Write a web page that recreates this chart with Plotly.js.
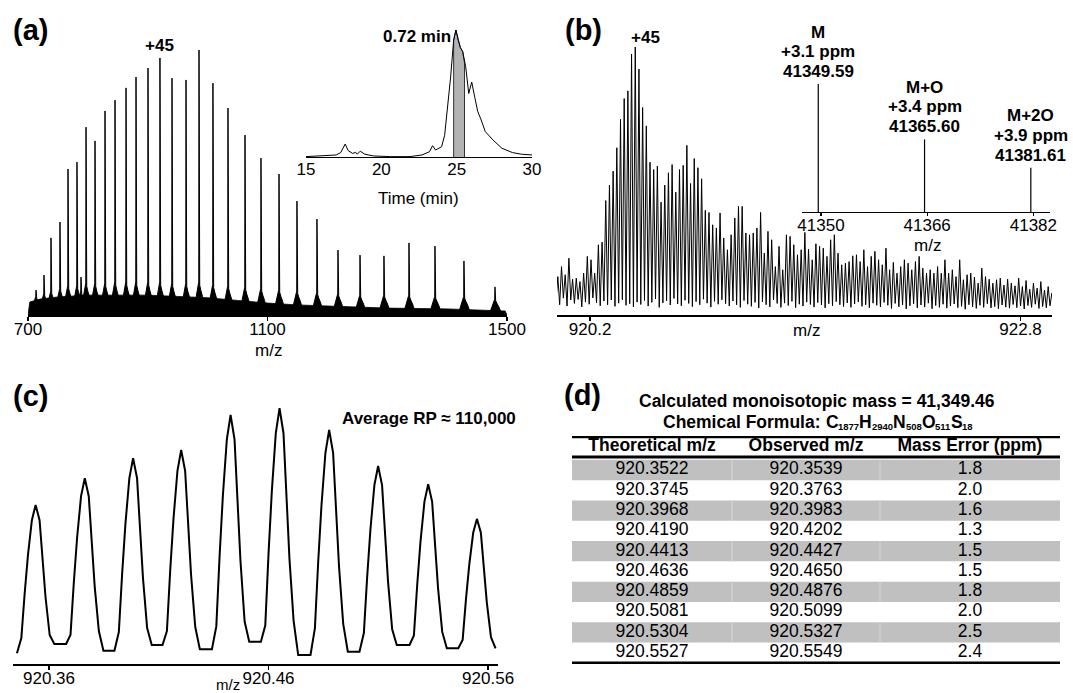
<!DOCTYPE html>
<html><head><meta charset="utf-8">
<script src="https://cdn.plot.ly/plotly-3.0.1.min.js"></script>
<style>html,body{margin:0;padding:0;background:#fff;} #chart{width:1073px;height:693px;}</style>
</head><body><div id="chart"></div>
<script>
// ===== Panel (a): charge-state envelope (m/z, relative intensity %) =====
const aPeakMz  = [713.4, 726.7, 738.4, 753.4, 766.8, 781.8, 788.5, 796.9, 811.9, 828.6, 845.3, 863.7, 880.4, 900.4, 920.4, 940.5, 963.9, 985.6, 1008.9, 1034.0, 1062.4, 1089.1, 1119.2, 1149.2, 1182.6, 1217.7, 1254.5, 1294.5, 1336.3, 1379.7, 1428.1, 1479.9];
const aPeakInt = [9.4, 15.1, 29.1, 35.1, 55.1, 57.7, 14.3, 70.9, 65.7, 77.0, 81.1, 85.7, 89.8, 93.2, 97.0, 89.4, 88.7, 100, 87.5, 78.1, 67.9, 59.2, 53.2, 43.0, 36.2, 24.5, 22.6, 22.3, 27.2, 26.0, 20.4, 10.6];
const aSkirt   = [7, 8, 9, 10, 11, 11, 9, 12, 12, 12, 12.5, 12.5, 12.5, 12.5, 12.5, 12, 12, 12.5, 11.5, 11, 10.5, 10, 9.5, 9, 8.5, 8, 7.5, 7.5, 7.5, 7, 7, 6];
const aBaseMz  = [700, 703, 720, 750, 800, 850, 900, 950, 1000, 1050, 1100, 1150, 1200, 1300, 1400, 1497, 1500];
const aBaseInt = [0, 4.9, 6.0, 6.8, 7.5, 7.5, 7.5, 7.0, 6.5, 5.5, 4.5, 3.8, 3.4, 2.6, 2.3, 1.5, 0];
const aTicks   = [700, 1100, 1500];
const aLabelIdx = 14; // +45 charge state

// Inset (a): chromatogram
const chromT = [15, 17.0, 17.3, 17.6, 17.8, 18.1, 18.3, 18.4, 18.6, 18.9, 19.5, 20.6, 21.9, 22.7, 23.2, 23.4, 23.6, 24.0, 24.2, 24.4, 24.6, 24.8, 24.95, 25.1, 25.25, 25.4, 25.5, 25.6, 25.8, 26.0, 26.2, 26.4, 26.6, 26.9, 27.4, 28.0, 28.7, 29.3, 30];
const chromI = [0.3, 1.6, 3.4, 10.2, 5.0, 2.8, 3.7, 2.2, 4.6, 2.2, 0.8, 0.3, 0.3, 1.6, 4.2, 8.9, 5.5, 8.1, 17, 39.6, 63, 92, 100, 92, 86, 83, 75, 71, 50, 59, 47, 35.7, 30, 20, 13.5, 6.9, 3.5, 2.2, 1.6];
const shadeT = [24.8, 24.95, 25.1, 25.25, 25.4, 25.5, 25.52];
const shadeI = [92, 100, 92, 86, 83, 75, 74];
const chromTicks = [15, 20, 25, 30];

// ===== Panel (b): isotopic distribution of the +45 ion =====
const bFirstMz = 920.005;
const bSpacing = 0.02227;
const bPeaks = [
  12.7, 16.5, 13.4, 19.7, 11.7, 12.1, 10.8, 14.0, 20.4, 19.1, 14.0, 24.8, 25.8, 41.6, 47.5, 52.8, 61.7, 72.5, 80.4, 83.3, 97.3, 100, 91.6, 77.0, 70.0, 56.2, 53.4, 54.7, 41.0, 47.5, 52.2, 55.3, 44.8, 53.4, 55.0, 62.6, 48.1, 57.6, 54.1, 49.9, 37.9, 37.1, 32.4, 31.2, 36.9, 27.4,
  22.9, 28.6, 35.0, 39.4, 39.4, 29.3, 28.6, 29.3, 31.2, 37.1, 21.6, 29.9, 26.7, 16.5, 24.2, 15.3, 28.6, 28.0, 24.8, 21.0, 22.9, 29.5, 23.2, 19.1, 25.2, 24.2, 23.5, 20.4, 26.7, 28.6, 21.6, 17.2, 17.8, 18.4, 20.6, 21.0, 18.4, 22.9, 16.5, 20.4, 22.3, 19.1, 17.2, 23.5,
  15.3, 18.1, 14.0, 16.5, 19.1, 17.8, 15.3, 18.4, 20.4, 15.9, 14.0, 15.3, 14.0, 16.5, 14.0, 19.1, 14.0, 15.3, 12.7, 19.1, 11.5, 13.4, 14.0, 12.5, 10.2, 15.9, 12.7, 11.7, 10.2, 11.5, 12.1, 9.5, 11.7, 10.2, 9.2, 12.1, 8.9, 11.2, 7.9, 10.2, 8.3, 10.8, 7.6, 8.9, 6.4];
const bValleys = [
  3.5, 2.0, 4.5, 1.5, 3.8, 2.5, 4.0, 1.2, 3.0, 2.2, 4.6, 2.8, 1.6, 3.4, 2.0, 3.8, 1.4, 2.6, 3.9, 1.8,
  2.4, 1.2, 3.0, 2.1, 3.6, 1.5, 2.9, 4.2, 1.0, 2.7, 3.5, 1.9, 4.4, 2.3, 1.6, 3.7, 2.5, 1.3, 3.2, 2.0,
  4.1, 2.6, 1.1, 3.3, 2.2, 3.9,
  2.4, 1.5, 3.4, 2.0, 1.0, 3.6, 2.2, 1.4, 2.9, 0.8, 3.1, 2.0, 1.2, 3.8, 2.5, 1.0, 2.6, 1.7, 3.3, 0.9,
  2.2, 1.5, 3.0, 2.1, 1.1, 2.8, 1.9, 0.8, 2.4, 1.6, 3.2, 2.0, 1.3, 2.7, 1.0, 2.3, 3.1, 1.4, 2.0, 0.9,
  2.6, 1.8, 1.2, 2.9,
  1.8, 0.6, 2.5, 1.2, 2.0, 0.4, 1.6, 2.4, 0.8, 1.9, 1.1, 2.6, 0.5, 1.7, 1.0, 2.2, 0.7, 1.5, 2.3, 0.9,
  1.4, 0.3, 2.0, 1.2, 0.6, 1.8, 1.0, 2.4, 0.8, 1.3, 0.5, 1.9, 1.1, 0.7, 2.1, 0.9, 1.5, 0.4, 1.7, 1.0,
  2.2, 0.6, 1.3, 0.8, 1.6, 1.0];
const bTicks = [920.2, 922.8];
const bTickText = ['920.2', '922.8'];

// Inset (b): deconvoluted masses
const bIsoMass = [41349.59, 41365.60, 41381.61];
const bIsoInt  = [100, 56.7, 34.6];
const bIsoName = ['M', 'M+O', 'M+2O'];
const bIsoPpm  = ['+3.1 ppm', '+3.4 ppm', '+3.9 ppm'];
const bIsoTicks = [41350, 41366, 41382];
const bIsoTickText = ['41350', '41366', '41382'];

// ===== Panel (d): table =====
const tTheo = [920.3522, 920.3745, 920.3968, 920.4190, 920.4413, 920.4636, 920.4859, 920.5081, 920.5304, 920.5527];
const tObs  = [920.3539, 920.3763, 920.3983, 920.4202, 920.4427, 920.4650, 920.4876, 920.5099, 920.5327, 920.5549];
const tErr  = [1.8, 2.0, 1.6, 1.3, 1.5, 1.5, 1.8, 2.0, 2.5, 2.4];
const tHeaders = ['Theoretical m/z', 'Observed m/z', 'Mass Error (ppm)'];
const formulaParts = [['C', '1877'], ['H', '2940'], ['N', '508'], ['O', '511'], ['S', '18']];

// ===== Panel (c): resolved isotopic peaks (centres = observed m/z) =====
const cPeakMz  = tObs;
const cPeakInt = [61.3, 72.0, 80.0, 83.3, 97.3, 100, 91.3, 76.9, 69.6, 55.7];
const cValley  = [1.9, 5.6, 2.9, 5.2, 3.5, 6.5, 1.2, 2.5, 5.2, 3.9, 3.9];
const cShapeDx  = [-0.0065, -0.005, -0.0035, -0.0017, 0, 0.0018, 0.003, 0.0045, 0.0064];
const cShapeRel = [0.13, 0.42, 0.67, 0.90, 1, 0.90, 0.70, 0.40, 0.15];
const cFootDx = 0.0085;
const cTicks = [920.36, 920.46, 920.56];
const cTickText = ['920.36', '920.46', '920.56'];

// ---------------------------------------------------------------
const FONT = 'Liberation Sans, Arial, Helvetica, sans-serif';
const W = 1073, H = 693;
const dX = (a, b) => [a / W, b / W];
const dY = (top, bot) => [1 - bot / H, 1 - top / H];
const PX = v => v / W, PY = v => 1 - v / H;

// (a) peaks as spike + skirt polygons
const SK_DX = [-10, -5, -2.5, -1, -0.4, 0, 0.4, 1.2, 3, 6, 12];
const SK_F  = [0, 0.55, 0.75, 0.9, 1, null, 1, 0.9, 0.75, 0.55, 0];
const apx = [], apy = [];
aPeakMz.forEach((c, i) => {
  const h = aPeakInt[i], s = aSkirt[i];
  SK_DX.forEach((d, k) => { apx.push(c + d); apy.push(SK_F[k] === null ? h : SK_F[k] * s); });
  apx.push(null); apy.push(null);
});

// inset shade polygon
const shX = [shadeT[0]].concat(shadeT, [shadeT[shadeT.length - 1]]);
const shY = [0].concat(shadeI, [0]);

// (b) zig-zag profile
const bY = [];
bPeaks.forEach((p, i) => { bY.push(bValleys[i], p); });
bY.push(bValleys[bPeaks.length]);

// (b) inset sticks
const stX = [], stY = [];
bIsoMass.forEach((m, i) => { stX.push(m, m, null); stY.push(0, bIsoInt[i], null); });

// (c) profile
const cx = [], cy = [];
cPeakMz.forEach((c, i) => {
  cx.push(c - cFootDx); cy.push(cValley[i]);
  cShapeDx.forEach((d, k) => { cx.push(c + d); cy.push(cPeakInt[i] * cShapeRel[k]); });
  cx.push(c + cFootDx); cy.push(cValley[i + 1]);
});

// (d) table geometry in its own hidden axes (x in px-like units, y in row units)
const colEdges = [0, 160, 308, 488];
const colCenter = [80, 234, 398];
const rowIdx = tTheo.map((_, i) => i);
const grayRows = rowIdx.filter(i => i % 2 === 0);
const TF = 17.5;

const traces = [
  {type: 'scatter', mode: 'lines', x: aBaseMz, y: aBaseInt, fill: 'tozeroy', fillcolor: '#000',
   line: {color: '#000', width: 0.8}, xaxis: 'x', yaxis: 'y', hoverinfo: 'skip'},
  {type: 'scatter', mode: 'lines', x: apx, y: apy, fill: 'toself', fillcolor: '#000',
   line: {color: '#000', width: 1}, xaxis: 'x', yaxis: 'y', hoverinfo: 'skip'},
  {type: 'scatter', mode: 'lines', x: shX, y: shY, fill: 'toself', fillcolor: '#b3b3b3',
   line: {color: '#333', width: 1}, xaxis: 'x2', yaxis: 'y2', hoverinfo: 'skip'},
  {type: 'scatter', mode: 'lines', x: chromT, y: chromI, line: {color: '#000', width: 1},
   xaxis: 'x2', yaxis: 'y2', hoverinfo: 'skip'},
  {type: 'scatter', mode: 'lines', x0: bFirstMz - bSpacing / 2, dx: bSpacing / 2, y: bY,
   line: {color: '#000', width: 1}, xaxis: 'x3', yaxis: 'y3', hoverinfo: 'skip'},
  {type: 'scatter', mode: 'lines', x: stX, y: stY, line: {color: '#000', width: 1.2},
   xaxis: 'x4', yaxis: 'y4', hoverinfo: 'skip'},
  {type: 'scatter', mode: 'lines', x: cx, y: cy, line: {color: '#000', width: 2},
   xaxis: 'x5', yaxis: 'y5', hoverinfo: 'skip'},
  {type: 'bar', orientation: 'h', y: grayRows, x: grayRows.map(() => colEdges[3]), base: 0, width: 1,
   marker: {color: '#c0c0c0', line: {width: 0}}, xaxis: 'x6', yaxis: 'y6', hoverinfo: 'skip'},
  {type: 'scatter', mode: 'text', x: colCenter, y: colCenter.map(() => -1.15),
   text: tHeaders.map(t => '<b>' + t + '</b>'), textfont: {family: FONT, size: TF, color: '#000'},
   textposition: 'middle center', xaxis: 'x6', yaxis: 'y6', hoverinfo: 'skip'}
];
const cols = [tTheo.map(v => v.toFixed(4)), tObs.map(v => v.toFixed(4)), tErr.map(v => v.toFixed(1))];
cols.forEach((vals, j) => {
  traces.push({type: 'scatter', mode: 'text', x: vals.map(() => colCenter[j]), y: rowIdx, text: vals,
    textfont: {family: FONT, size: TF, color: '#000'}, textposition: 'middle center',
    xaxis: 'x6', yaxis: 'y6', hoverinfo: 'skip'});
});

const axBase = {showgrid: false, zeroline: false, showline: true, linecolor: '#000', ticks: 'outside',
  tickcolor: '#000', tickwidth: 1.3, ticklen: 4, ticklabelstandoff: -6,
  tickfont: {family: FONT, size: 17, color: '#000'}, fixedrange: true};
const yHidden = {visible: false, fixedrange: true, showgrid: false, zeroline: false};

const shapes = [];
grayRows.forEach(r => {
  [colEdges[1], colEdges[2]].forEach(e => shapes.push({type: 'line', xref: 'x6', yref: 'y6',
    x0: e, x1: e, y0: r - 0.5, y1: r + 0.5, line: {color: '#d6d6d6', width: 1}}));
});
[[-1.62, 2.5], [-0.64, 3], [9.5, 2.5]].forEach(([y, w]) => shapes.push({type: 'line', xref: 'x6', yref: 'y6',
  x0: colEdges[0], x1: colEdges[3], y0: y, y1: y, line: {color: '#000', width: w}}));

const ann = [];
function lab(text, x, y, opt) {
  ann.push(Object.assign({text: text, x: PX(x), y: PY(y), xref: 'paper', yref: 'paper', showarrow: false,
    xanchor: 'center', yanchor: 'middle', borderpad: 0, font: {family: FONT, size: 17, color: '#000'}}, opt || {}));
}
const big = {font: {family: FONT, size: 29, color: '#000'}};
lab('<b>(a)</b>', 30, 30, big);
lab('<b>(b)</b>', 583, 30, big);
lab('<b>(c)</b>', 30, 396, big);
lab('<b>(d)</b>', 582, 395, big);
lab('m/z', 268, 350);
lab('Time (min)', 418, 198);
lab('m/z', 806, 330);
lab('m/z', 927, 245);
lab('m/z', 228, 684, {font: {family: FONT, size: 15, color: '#000'}});
lab('<b>Average RP ≈ 110,000</b>', 517, 418, {xanchor: 'right'});
lab('<b>Calculated monoisotopic mass = 41,349.46</b>', 817, 401, {font: {family: FONT, size: TF, color: '#000'}});

// formula line with small subscripts, laid out with measured widths
const ctx = document.createElement('canvas').getContext('2d');
const tw = (t, sz) => { ctx.font = 'bold ' + sz + 'px "Liberation Sans"'; return ctx.measureText(t).width; };
const MAIN = TF, SUB = 9.5;
const pieces = [['Chemical Formula: ', MAIN]];
formulaParts.forEach(([el, n]) => { pieces.push([el, MAIN]); pieces.push([n, SUB]); });
const total = pieces.reduce((s, p) => s + tw(p[0], p[1]), 0);
let xx = 817 - total / 2;
pieces.forEach(([t, sz]) => {
  lab('<b>' + t.replace(/ /g, '&nbsp;') + '</b>', xx, sz === MAIN ? 422 : 426.5,
    {xanchor: 'left', font: {family: FONT, size: sz, color: '#000'}});
  xx += tw(t, sz);
});

const fnt = {family: FONT, size: 17, color: '#000'};
ann.push({text: '<b>+45</b>', xref: 'x', yref: 'y', x: aPeakMz[aLabelIdx], y: aPeakInt[aLabelIdx], yshift: 12,
  showarrow: false, xanchor: 'center', yanchor: 'middle', font: fnt});
const bMaxIdx = bPeaks.indexOf(Math.max.apply(null, bPeaks));
ann.push({text: '<b>+45</b>', xref: 'x3', yref: 'y3', x: bFirstMz + bMaxIdx * bSpacing, y: bPeaks[bMaxIdx],
  yshift: 9, xshift: 10, showarrow: false, xanchor: 'center', yanchor: 'middle', font: fnt});
ann.push({text: '<b>0.72 min</b>', xref: 'x2', yref: 'y2', x: shadeT[0], y: 100, yshift: -7, xshift: -1,
  showarrow: false, xanchor: 'right', yanchor: 'middle', font: fnt});
bIsoMass.forEach((m, i) => {
  [[bIsoName[i], 52], [bIsoPpm[i], 32.5], [m.toFixed(2), 12.5]].forEach(([t, s]) => {
    ann.push({text: '<b>' + t + '</b>', xref: 'x4', yref: 'y4', x: m, y: bIsoInt[i], yshift: s,
      showarrow: false, xanchor: 'center', yanchor: 'middle', font: fnt});
  });
});

const layout = {
  width: W, height: H, margin: {l: 0, r: 0, t: 0, b: 0}, showlegend: false,
  paper_bgcolor: '#fff', plot_bgcolor: 'rgba(0,0,0,0)', font: {family: FONT, color: '#000'},
  xaxis: Object.assign({}, axBase, {domain: dX(28, 507), range: [700, 1500], tickvals: aTicks, linewidth: 2, anchor: 'y'}),
  yaxis: Object.assign({}, yHidden, {domain: dY(50, 315), range: [0, 100], anchor: 'x'}),
  xaxis2: Object.assign({}, axBase, {domain: dX(306, 532), range: [15, 30], tickvals: chromTicks, linewidth: 1, ticks: '', ticklabelstandoff: -3, anchor: 'y2'}),
  yaxis2: Object.assign({}, yHidden, {domain: dY(30, 157), range: [0, 100], anchor: 'x2'}),
  xaxis3: Object.assign({}, axBase, {domain: dX(557, 1052), range: [920.0, 922.99], tickvals: bTicks, ticktext: bTickText, linewidth: 2, anchor: 'y3'}),
  yaxis3: Object.assign({}, yHidden, {domain: dY(47, 315), range: [-1.9, 100], anchor: 'x3'}),
  xaxis4: Object.assign({}, axBase, {domain: dX(802, 1050), range: [41347.14, 41384.5], tickvals: bIsoTicks, ticktext: bIsoTickText, linewidth: 1, ticklen: 3, ticklabelstandoff: -5, anchor: 'y4'}),
  yaxis4: Object.assign({}, yHidden, {domain: dY(84, 212), range: [0, 100], anchor: 'x4'}),
  xaxis5: Object.assign({}, axBase, {domain: dX(13, 498), range: [920.3436, 920.5645], tickvals: cTicks, ticktext: cTickText, linewidth: 2, anchor: 'y5'}),
  yaxis5: Object.assign({}, yHidden, {domain: dY(400, 664), range: [-2.4, 103.3], anchor: 'x5'}),
  xaxis6: {visible: false, fixedrange: true, domain: dX(572, 1060), range: [0, 488], anchor: 'y6'},
  yaxis6: {visible: false, fixedrange: true, domain: dY(436, 664), range: [9.557, -1.675], anchor: 'x6'},
  shapes: shapes, annotations: ann
};

Plotly.newPlot('chart', traces, layout, {displayModeBar: false, staticPlot: true});
</script>
</body></html>
